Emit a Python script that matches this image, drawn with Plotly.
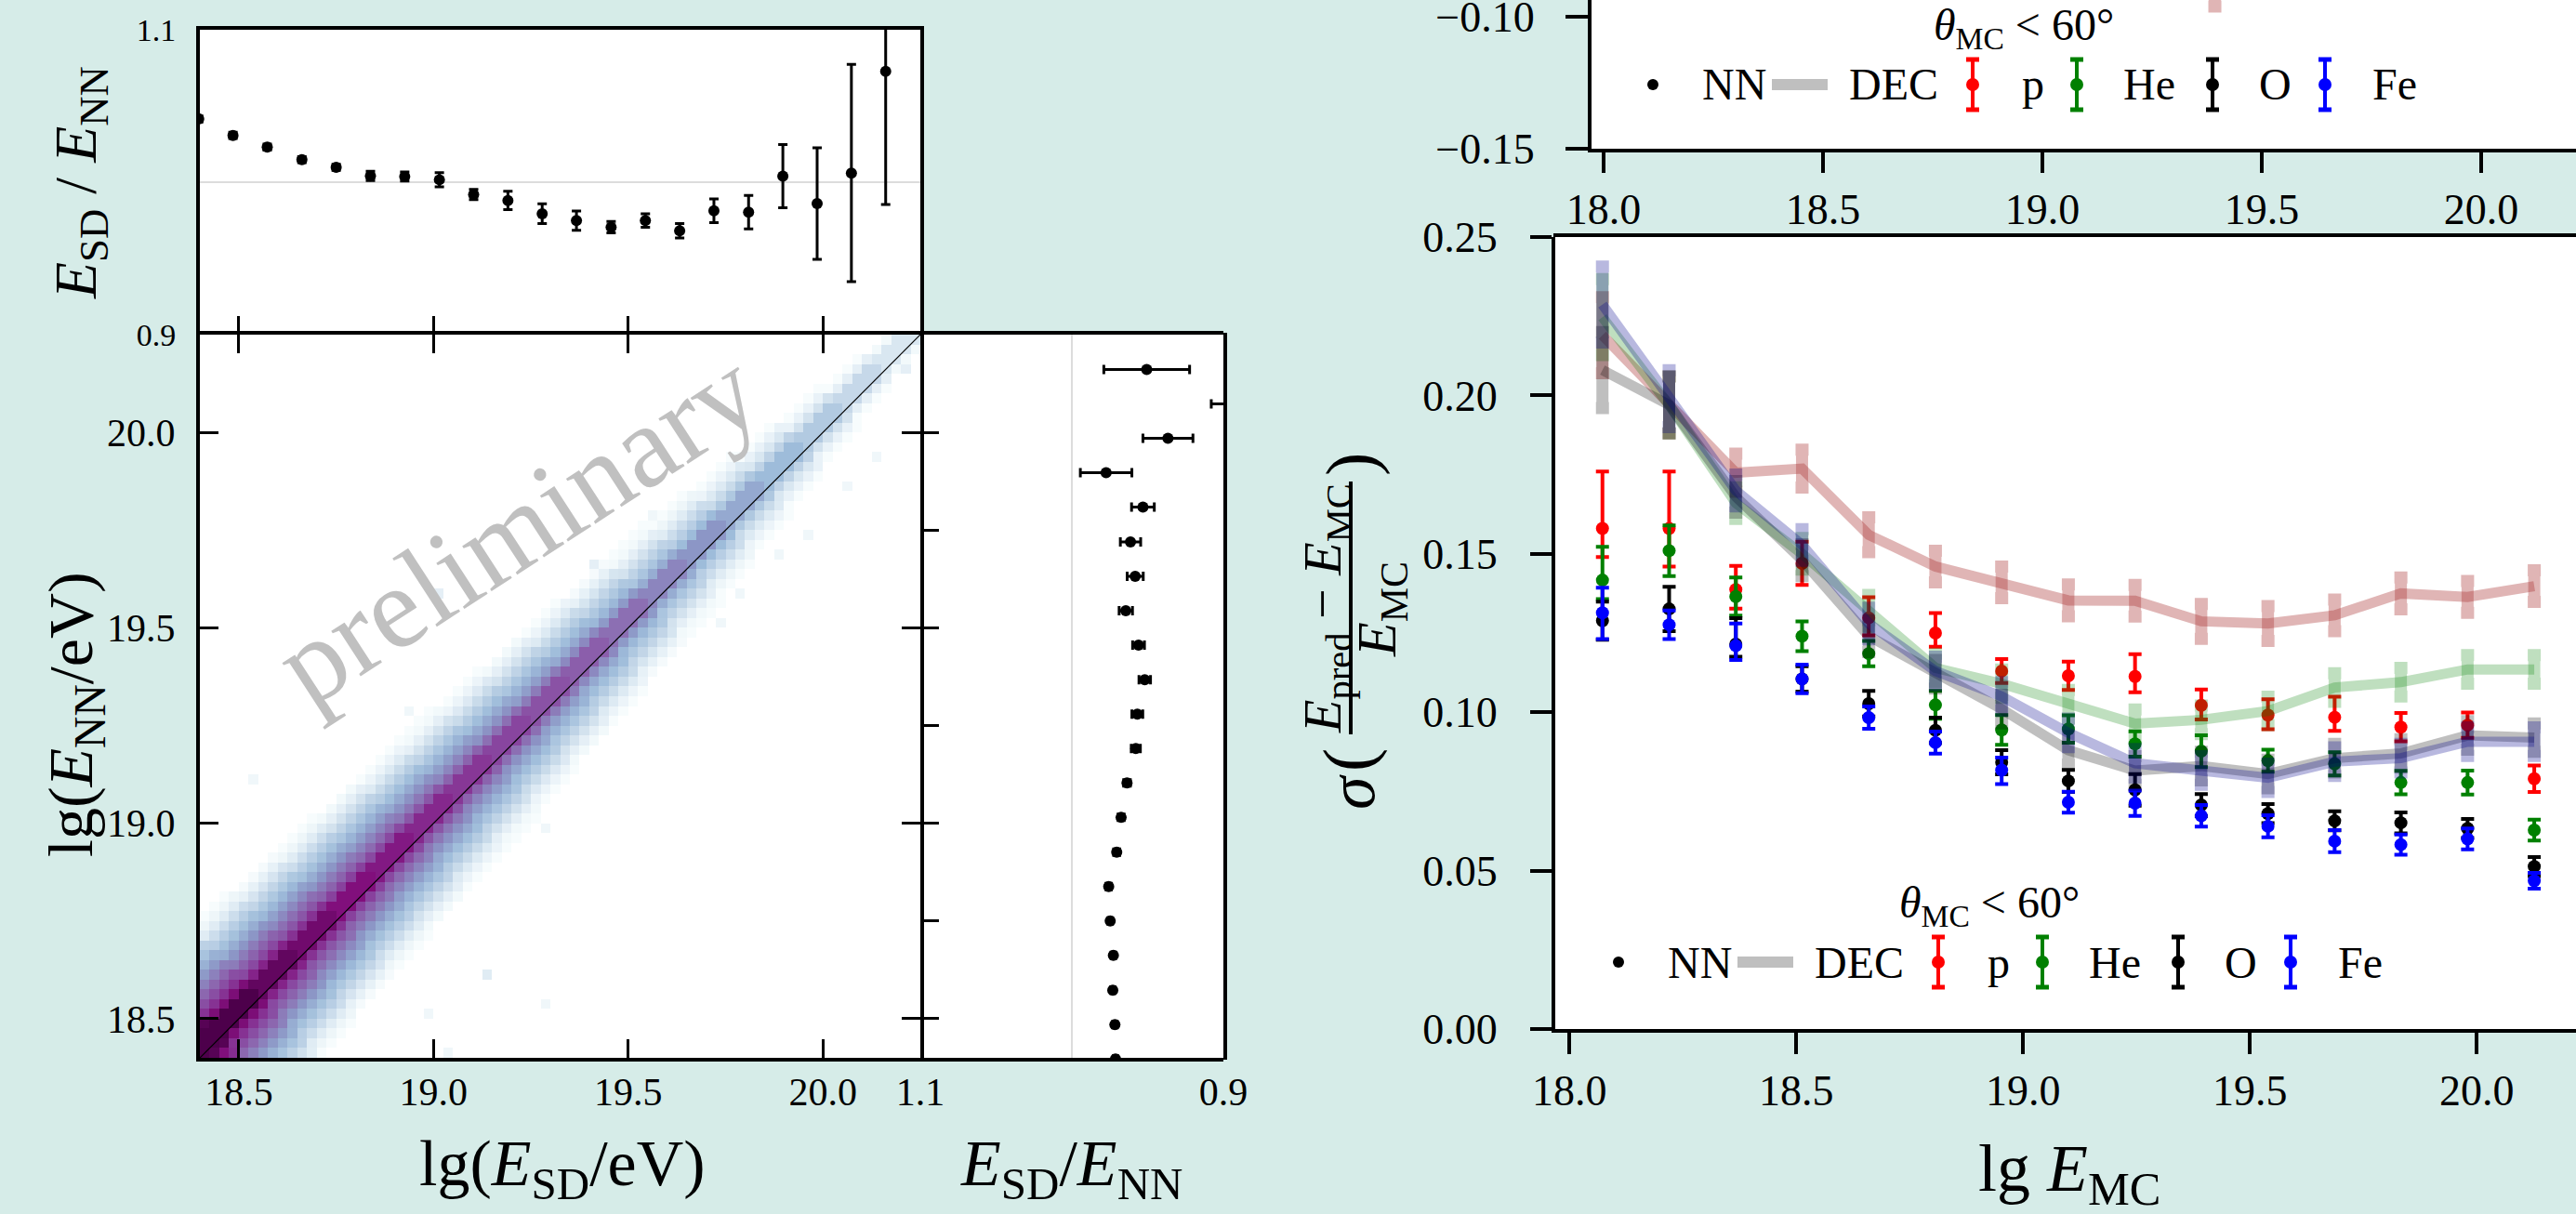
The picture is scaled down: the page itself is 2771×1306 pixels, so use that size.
import plotly.graph_objects as go

W, H = 2771, 1306
BG = "#d6ece8"
FONT = "Liberation Serif, Times New Roman, serif"


def px(x):
    return x / W


def py(y):
    return 1 - y / H


# ---------------- data: marginal profiles ----------------
marg_lgE = [18.397, 18.485, 18.573, 18.662, 18.750, 18.838, 18.926, 19.015, 19.103, 19.191,
            19.279, 19.367, 19.456, 19.544, 19.632, 19.720, 19.809, 19.897, 19.985, 20.073, 20.161]
top_ratio = [1.0415, 1.0307, 1.0230, 1.0148, 1.0098, 1.0041, 1.0037, 1.0016, 0.9919, 0.9880,
             0.9793, 0.9748, 0.9705, 0.9748, 0.9681, 0.9813, 0.9803, 1.0040, 0.9860, 1.0060, 1.0727]
top_err = [0.002, 0.002, 0.002, 0.002, 0.002, 0.003, 0.003, 0.0046, 0.0034, 0.006,
           0.0065, 0.0063, 0.0038, 0.0044, 0.0047, 0.0078, 0.011, 0.0207, 0.0366, 0.0713, 0.0873]
right_ratio = [0.9712, 0.9716, 0.9730, 0.9726, 0.9747, 0.9757, 0.9704, 0.9675, 0.9636, 0.9578,
               0.9568, 0.9519, 0.9560, 0.9644, 0.9582, 0.9613, 0.9531, 0.9774, 0.9366, 0.8800, 0.9506]
right_err = [0.0015, 0.0015, 0.0015, 0.0015, 0.0015, 0.0018, 0.002, 0.002, 0.0022, 0.003,
             0.0036, 0.0038, 0.0039, 0.0044, 0.0053, 0.0067, 0.0075, 0.017, 0.0165, 0.028, 0.0283]

# ---------------- data: 2D histogram (read colour levels, BuPu steps 1..9) ----------------
hist_lo, hist_bin, hist_n = 18.4, 0.025, 74
hist_anchor_lgE = [18.4, 18.5, 18.6, 18.7, 18.8, 18.9, 19.0, 19.1, 19.2, 19.3,
                   19.4, 19.5, 19.6, 19.7, 19.8, 19.9, 20.0, 20.1, 20.2]
hist_ridge_level = [9.8, 9.1, 8.6, 8.3, 8.0, 7.8, 7.5, 7.2, 6.9, 6.6,
                    6.3, 5.9, 5.4, 5.0, 4.5, 4.0, 3.4, 2.8, 2.2]
hist_offset_drop = [0, 0, 1, 1.8, 2.4, 3, 3.6, 4.2, 4.8, 5.4, 6, 6.6, 7.2, 7.8, 8.4]
hist_ridge_offset = 1
out_sd = [18.937, 19.009, 18.937, 18.535, 19.287, 19.132, 19.287, 18.985, 19.032, 19.414,
          19.565, 20.142, 20.067, 19.967, 19.892, 19.792, 19.740, 20.218, 20.142, 20.190, 19.020]
out_nn = [19.287, 19.287, 19.212, 19.113, 18.990, 18.617, 18.538, 18.514, 18.424, 19.664,
          19.787, 19.938, 19.862, 19.735, 19.688, 19.589, 19.513, 20.164, 20.188, 20.215, 19.590]
out_level = [1.3, 1.3, 1.3, 1.3, 1.3, 2.0, 1.3, 1.3, 1.3, 1.8,
             1.3, 1.3, 1.3, 1.3, 1.3, 1.3, 1.3, 1.8, 1.8, 1.3, 1.8]

# ---------------- data: resolution panel ----------------
res_lgE = [18.073, 18.220, 18.367, 18.513, 18.660, 18.807, 18.953, 19.100,
           19.247, 19.393, 19.540, 19.687, 19.833, 19.980, 20.127]
nn_p = [0.158, 0.158, 0.1387, 0.147, 0.1298, 0.125, 0.113, 0.1115, 0.1113, 0.1022, 0.0991, 0.0984, 0.0953, 0.0959, 0.079]
nn_p_up = [0.018, 0.018, 0.0075, 0.0068, 0.0065, 0.0063, 0.0038, 0.0045, 0.007, 0.005, 0.005, 0.0065, 0.0045, 0.004, 0.0042]
nn_p_dn = [0.009, 0.012, 0.006, 0.0068, 0.0055, 0.0043, 0.0038, 0.0045, 0.005, 0.0045, 0.0045, 0.0043, 0.0045, 0.004, 0.0042]
nn_he = [0.1417, 0.151, 0.1365, 0.124, 0.1185, 0.1023, 0.0944, 0.0947, 0.090, 0.0877, 0.0847, 0.0837, 0.0778, 0.0778, 0.0628]
nn_he_up = [0.0105, 0.008, 0.006, 0.0047, 0.004, 0.0044, 0.0047, 0.0043, 0.004, 0.005, 0.0035, 0.0037, 0.0037, 0.0038, 0.0033]
nn_he_dn = [0.006, 0.008, 0.006, 0.0047, 0.004, 0.0044, 0.0047, 0.0043, 0.004, 0.005, 0.0035, 0.0037, 0.0037, 0.0038, 0.0033]
nn_o = [0.1289, 0.1326, 0.1215, 0.1105, 0.1027, 0.0943, 0.0842, 0.0783, 0.0755, 0.0707, 0.068, 0.0657, 0.0651, 0.0633, 0.0513]
nn_o_up = [0.006, 0.007, 0.0082, 0.004, 0.004, 0.004, 0.0038, 0.0035, 0.005, 0.0035, 0.003, 0.003, 0.0033, 0.003, 0.003]
nn_o_dn = [0.006, 0.007, 0.004, 0.004, 0.004, 0.004, 0.0038, 0.0035, 0.005, 0.0035, 0.003, 0.003, 0.0033, 0.003, 0.003]
nn_fe = [0.1314, 0.1276, 0.121, 0.1105, 0.0983, 0.0904, 0.0817, 0.0716, 0.0713, 0.0673, 0.064, 0.0593, 0.0582, 0.060, 0.0468]
nn_fe_up = [0.0079, 0.0045, 0.007, 0.0045, 0.0035, 0.0035, 0.004, 0.0033, 0.004, 0.0034, 0.0035, 0.0035, 0.0032, 0.0033, 0.0025]
nn_fe_dn = [0.0083, 0.0045, 0.0045, 0.0045, 0.0035, 0.0035, 0.0044, 0.0033, 0.004, 0.0034, 0.0035, 0.0035, 0.0032, 0.0033, 0.0025]

dec_p = [0.219, 0.197, 0.1756, 0.1769, 0.156, 0.146, 0.141, 0.1353, 0.1352, 0.1287, 0.128, 0.1306, 0.1375, 0.1364, 0.1398]
dec_he = [0.2247, 0.197, 0.166, 0.150, 0.132, 0.114, 0.109, 0.1025, 0.0964, 0.0976, 0.1004, 0.1078, 0.1095, 0.1135, 0.1135]
dec_o = [0.208, 0.197, 0.168, 0.148, 0.124, 0.112, 0.101, 0.088, 0.0816, 0.083, 0.0805, 0.0855, 0.087, 0.0927, 0.092]
dec_fe = [0.2287, 0.199, 0.170, 0.1528, 0.128, 0.113, 0.105, 0.0935, 0.0839, 0.0816, 0.0793, 0.0844, 0.0855, 0.0907, 0.0907]
dec_err = [0.012, 0.009, 0.005, 0.005, 0.005, 0.0045, 0.0045, 0.0045, 0.0045, 0.0045, 0.0045, 0.0045, 0.0045, 0.0045, 0.0045]
dec_p_err = [0.012, 0.009, 0.006, 0.006, 0.0055, 0.005, 0.005, 0.005, 0.005, 0.0055, 0.0055, 0.005, 0.005, 0.005, 0.005]

# top-right (bias) panel: only the lower end of one DEC-p error bar is in view
bias_dec_p_x = [19.393]
bias_dec_p_y = [-0.090]
bias_dec_p_err = [0.0062]

# ---------------- figure ----------------
fig = go.Figure()

# top marginal
fig.add_trace(go.Scatter(x=[hist_lo, 20.25], y=[1.0, 1.0], mode="lines",
                         line=dict(color="#dcdcdc", width=2), xaxis="x", yaxis="y", hoverinfo="skip"))
fig.add_trace(go.Scatter(x=marg_lgE, y=top_ratio, mode="markers",
                         marker=dict(color="black", size=12),
                         error_y=dict(type="data", array=top_err, color="black", thickness=3, width=5),
                         xaxis="x", yaxis="y"))

# 2D histogram
centers = [round(hist_lo + hist_bin * (k + 0.5), 4) for k in range(hist_n)]
z = [[None] * hist_n for _ in range(hist_n)]
for j in range(hist_n):
    for i in range(hist_n):
        off = abs((j - i) - hist_ridge_offset)
        if off >= len(hist_offset_drop):
            continue
        s = hist_lo + hist_bin * ((i + j) / 2 + 0.5)
        a = min(range(len(hist_anchor_lgE)), key=lambda k: abs(hist_anchor_lgE[k] - s))
        lev = hist_ridge_level[a] - hist_offset_drop[off]
        if lev >= 0.6:
            z[j][i] = min(max(lev, 1.0), 9.0)
for sd, nn, lev in zip(out_sd, out_nn, out_level):
    i = int((sd - hist_lo) / hist_bin)
    j = int((nn - hist_lo) / hist_bin)
    if 0 <= i < hist_n and 0 <= j < hist_n and z[j][i] is None:
        z[j][i] = lev

fig.add_trace(go.Heatmap(x=centers, y=centers, z=z, colorscale="BuPu", zmin=1, zmax=9,
                         showscale=False, xaxis="x2", yaxis="y2", hoverinfo="skip"))
fig.add_trace(go.Scatter(x=[hist_lo, 20.25], y=[hist_lo, 20.25], mode="lines",
                         line=dict(color="black", width=1.2), xaxis="x2", yaxis="y2", hoverinfo="skip"))

# right marginal
fig.add_trace(go.Scatter(x=[1.0, 1.0], y=[hist_lo, 20.25], mode="lines",
                         line=dict(color="#dcdcdc", width=2), xaxis="x3", yaxis="y3", hoverinfo="skip"))
fig.add_trace(go.Scatter(x=right_ratio, y=marg_lgE, mode="markers",
                         marker=dict(color="black", size=12),
                         error_x=dict(type="data", array=right_err, color="black", thickness=3, width=5),
                         xaxis="x3", yaxis="y3"))

# resolution panel: NN points
for vals, up, dn, col in [(nn_p, nn_p_up, nn_p_dn, "#ff0000"), (nn_he, nn_he_up, nn_he_dn, "#008000"),
                          (nn_o, nn_o_up, nn_o_dn, "#000000"), (nn_fe, nn_fe_up, nn_fe_dn, "#0000ff")]:
    fig.add_trace(go.Scatter(x=res_lgE, y=vals, mode="markers",
                             marker=dict(color=col, size=14),
                             error_y=dict(type="data", symmetric=False, array=up, arrayminus=dn,
                                          color=col, thickness=4, width=7),
                             xaxis="x4", yaxis="y4"))
# DEC bands
for vals, err, col in [(dec_p, dec_p_err, "rgba(165,42,42,0.35)"), (dec_he, dec_err, "rgba(0,128,0,0.25)"),
                       (dec_o, dec_err, "rgba(0,0,0,0.25)"), (dec_fe, dec_err, "rgba(0,0,139,0.28)")]:
    fig.add_trace(go.Scatter(x=res_lgE, y=vals, mode="lines",
                             line=dict(color=col, width=11),
                             error_y=dict(type="data", array=err, color=col, thickness=13, width=7),
                             xaxis="x4", yaxis="y4"))

# top-right panel partial DEC bar
fig.add_trace(go.Scatter(x=bias_dec_p_x, y=bias_dec_p_y, mode="lines",
                         line=dict(color="rgba(165,42,42,0.35)", width=11),
                         error_y=dict(type="data", array=bias_dec_p_err, color="rgba(165,42,42,0.35)",
                                      thickness=13, width=7),
                         xaxis="x5", yaxis="y5"))


def axis(**kw):
    base = dict(showgrid=False, zeroline=False, showline=True, linecolor="black", linewidth=4,
                ticks="inside", tickcolor="black", tickwidth=3, ticklen=20, automargin=False,
                ticklabeloverflow="allow",
                tickfont=dict(family=FONT, size=42, color="black"))
    base.update(kw)
    return base


hist_ticks = [18.5, 19.0, 19.5, 20.0]
layout = dict(
    template="none",
    width=W, height=H, margin=dict(l=0, r=0, t=0, b=0, pad=0, autoexpand=False),
    paper_bgcolor=BG, plot_bgcolor="white", showlegend=False,
    font=dict(family=FONT, color="black"),
    xaxis=axis(domain=[px(215), px(990)], anchor="y", range=[hist_lo, 20.25], showline=False,
               tickvals=hist_ticks, showticklabels=False),
    yaxis=axis(domain=[py(360), py(32)], anchor="x", range=[0.9, 1.1], mirror=True,
               tickvals=[0.9, 1.1], ticktext=["0.9", "1.1"], ticklabelstandoff=15,
               tickfont=dict(family=FONT, size=34, color="black")),
    xaxis2=axis(domain=[px(215), px(990)], anchor="y2", range=[hist_lo, 20.25], mirror="ticks",
                tickvals=hist_ticks, tickformat=".1f", ticklabelstandoff=-3),
    yaxis2=axis(domain=[py(1138), py(360)], anchor="x2", range=[hist_lo, 20.25], mirror="ticks",
                tickvals=hist_ticks, tickformat=".1f", ticklabelstandoff=14),
    xaxis3=axis(domain=[px(990), px(1316)], anchor="y3", range=[1.1, 0.9], mirror=True,
                tickvals=[1.1, 0.9], ticktext=["1.1", "0.9"], ticks="", ticklabelstandoff=-3),
    yaxis3=axis(domain=[py(1138), py(360)], anchor="x3", range=[hist_lo, 20.25], showline=False,
                tickvals=[18.5, 18.75, 19.0, 19.25, 19.5, 19.75, 20.0], showticklabels=False),
    xaxis4=axis(domain=[px(1673), 1], anchor="y4", range=[17.969, 20.219], ticks="outside",
                ticklen=23, tickwidth=4, tickvals=[18.0, 18.5, 19.0, 19.5, 20.0], tickformat=".1f",
                ticklabelstandoff=0, tickfont=dict(family=FONT, size=46, color="black")),
    yaxis4=axis(domain=[py(1107), py(255)], anchor="x4", range=[0, 0.25], ticks="outside",
                ticklen=23, tickwidth=4, tickvals=[0, 0.05, 0.10, 0.15, 0.20, 0.25], tickformat=".2f",
                ticklabelstandoff=26, tickfont=dict(family=FONT, size=46, color="black")),
    xaxis5=axis(domain=[px(1712), 1], anchor="y5", range=[17.9725, 20.216], ticks="outside",
                ticklen=22, tickwidth=4, tickvals=[18.0, 18.5, 19.0, 19.5, 20.0], tickformat=".1f",
                ticklabelstandoff=0, tickfont=dict(family=FONT, size=46, color="black")),
    yaxis5=axis(domain=[py(160), 1], anchor="x5", range=[-0.15, -0.0937], ticks="outside",
                ticklen=24, tickwidth=4, tickvals=[-0.15, -0.10], tickformat=".2f",
                ticklabelstandoff=24, tickfont=dict(family=FONT, size=46, color="black")),
)
fig.update_layout(**layout)

annotations = []
shapes = []


def text(x, y, t, size, angle=0, xanchor="center", color="black"):
    annotations.append(dict(x=px(x), y=py(y), xref="paper", yref="paper", text=t, showarrow=False,
                            textangle=angle, xanchor=xanchor, yanchor="middle",
                            font=dict(family=FONT, size=size, color=color)))


def line(x0, y0, x1, y1, color, width):
    shapes.append(dict(type="line", xref="paper", yref="paper", x0=px(x0), y0=py(y0), x1=px(x1), y1=py(y1),
                       line=dict(color=color, width=width), layer="above"))


def dot(x, y, r, color):
    shapes.append(dict(type="circle", xref="paper", yref="paper", x0=px(x - r), x1=px(x + r),
                       y0=py(y + r), y1=py(y - r), fillcolor=color, line=dict(width=0), layer="above"))


# frame pieces not drawn by the axes
line(211, 30, 994, 30, "black", 4)        # top of upper marginal panel
line(1318, 358, 1318, 1140, "black", 4)   # right side of right marginal panel
line(1671, 253, W, 253, "black", 4)       # top of resolution panel

# axis titles
text(86, 197, "<i>E</i><sub>SD</sub> / <i>E</i><sub>NN</sub>", 64, angle=-90)
text(80, 769, "lg(<i>E</i><sub>NN</sub>/eV)", 68, angle=-90)
text(605, 1257, "lg(<i>E</i><sub>SD</sub>/eV)", 70)
text(1152, 1257, "<i>E</i><sub>SD</sub>/<i>E</i><sub>NN</sub>", 70)
text(2226, 1262, "lg <i>E</i><sub>MC</sub>", 72)
text(556, 567, "preliminary", 126, angle=-33, color="#c0c0c0")

# sigma label (rotated fraction)
text(1454, 852, "<i>σ</i>", 72, angle=-90)
text(1450, 818, "(", 76, angle=-90)
text(1426, 655, "<i>E</i><sub>pred</sub> − <i>E</i><sub>MC</sub>", 58, angle=-90)
line(1453, 518, 1453, 790, "black", 4)
text(1486, 656, "<i>E</i><sub>MC</sub>", 60, angle=-90)
text(1453, 500, ")", 76, angle=-90)


def legend(dx, dy):
    text(2140 + dx, 974 + dy, "<i>θ</i><sub>MC</sub> &lt; 60°", 48)
    ry = 1035 + dy
    dot(1741 + dx, ry, 6, "black")
    text(1792 + dx, ry, "NN", 48, xanchor="left")
    line(1869 + dx, ry, 1929 + dx, ry, "rgba(0,0,0,0.25)", 12)
    text(1950 + dx, ry, "DEC", 48, xanchor="left")
    for gx, tx, col, lab in [(2085, 2136, "#ff0000", "p"), (2197, 2245, "#008000", "He"),
                             (2343, 2391, "#000000", "O"), (2464, 2513, "#0000ff", "Fe")]:
        gx += dx
        line(gx, ry - 27, gx, ry + 27, col, 4)
        line(gx - 7, ry - 27, gx + 7, ry - 27, col, 5)
        line(gx - 7, ry + 27, gx + 7, ry + 27, col, 5)
        dot(gx, ry, 7, col)
        text(tx + dx, ry, lab, 48, xanchor="left")


legend(0, 0)
legend(37, -944)

fig.update_layout(annotations=annotations, shapes=shapes)
fig.write_html("out.html")
